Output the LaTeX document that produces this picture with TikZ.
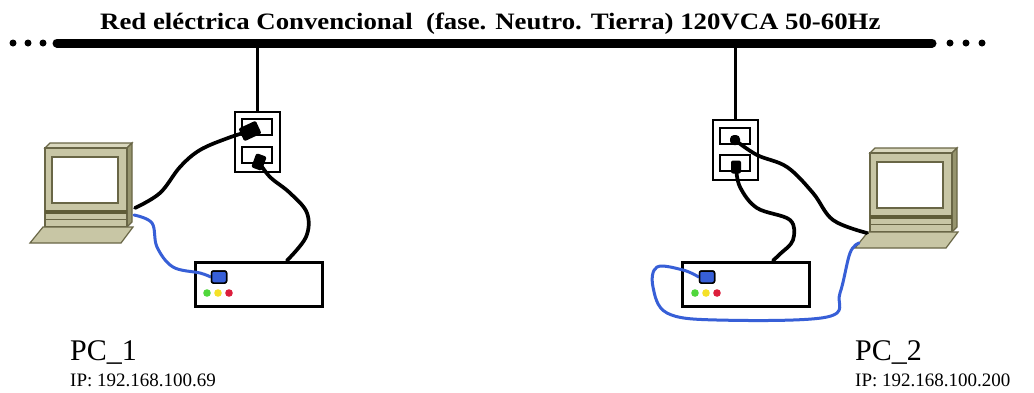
\documentclass[tikz,border=0pt]{standalone}
\usepackage{fontspec}
\setmainfont{Liberation Serif}
\usetikzlibrary{calc,positioning}
\definecolor{pcbody}{RGB}{200,198,165}
\definecolor{pctop}{RGB}{218,216,190}
\definecolor{pcside}{RGB}{150,148,110}
\definecolor{pcline}{RGB}{105,102,70}
\definecolor{pcdark}{RGB}{95,92,55}
\definecolor{lanblue}{RGB}{55,95,215}
\definecolor{ledgreen}{RGB}{80,215,60}
\definecolor{ledyellow}{RGB}{245,225,40}
\definecolor{ledred}{RGB}{220,30,60}

\begin{document}
\begin{tikzpicture}[
    x=1pt, y=-1pt,
    outlet/.style={draw, line width=2.8pt, fill=white, minimum width=45pt, minimum height=60pt, inner sep=0},
    socket/.style={draw, line width=2pt, minimum width=30pt, minimum height=16pt, inner sep=0},
    plug/.style={fill=black, rounded corners=2pt, inner sep=0},
    router/.style={draw, line width=3pt, fill=white, minimum width=127pt, minimum height=44pt, inner sep=0},
    port/.style={draw, line width=1.5pt, fill=lanblue, rounded corners=2pt, minimum width=15pt, minimum height=12pt, inner sep=0},
    cable/.style={line width=3.7pt, line cap=round, line join=round},
    lan/.style={cable, lanblue, line width=3pt},
    pics/pc/.style={code={
        % monitor
        \filldraw[pcline, line width=1.2pt, fill=pctop] (0,0) -- (5,-5) -- (87,-5) -- (82,0) -- cycle;
        \filldraw[pcline, line width=1.2pt, fill=pcside] (82,0) -- (87,-5) -- (87,74) -- (82,79) -- cycle;
        \filldraw[pcline, line width=1.2pt, fill=pcbody] (0,0) rectangle (82,79);
        \filldraw[pcline, fill=white, line width=2pt] (7,9) rectangle (73,55);
        \fill[pcdark] (0,62) rectangle (82,66);
        \draw[pcline] (0,71) -- (82,71);
        % keyboard
        \filldraw[pcline, line width=1.2pt, fill=pcbody] (-2,79) -- (88,79) -- (76,95) -- (-15,95) -- cycle;
        \coordinate (-pw) at (90,60);
        \coordinate (-lan) at (89,67);
        \coordinate (-kbpw) at (-3,80);
        \coordinate (-kblan) at (-11,90);
    }}
]
    \fill[white] (0,0) rectangle (1034,392);
    \useasboundingbox (0,0) rectangle (1034,392);

    % red electrica
    \node[anchor=base west, inner sep=0] (title) at (100,29)
        {\scalebox{1.14}[1]{\fontsize{23.5}{26}\selectfont\bfseries Red eléctrica Convencional\ \ (fase. Neutro. Tierra) 120VCA 50-60Hz}};
    \coordinate (busL) at (57,43);
    \coordinate (busR) at (932,43);
    \draw[line width=9pt, line cap=round] (busL) -- (busR);
    \foreach \x in {13,28,43,950,966,982}
        \fill (\x,43) circle (3.5);

    % tomas de corriente
    \node[outlet] (out1) at (257.5,142) {};
    \node[socket] (s1a) at (257,127) {};
    \node[socket] (s1b) at (257,154.5) {};
    \node[outlet] (out2) at (735.5,150) {};
    \node[socket] (s2a) at (734.5,136) {};
    \node[socket] (s2b) at (734.5,163) {};
    \coordinate (tap1) at (out1.north |- busL);
    \coordinate (tap2) at (out2.north |- busL);
    \draw[line width=2.6pt] (tap1) -- (out1.north);
    \draw[line width=2.6pt] (tap2) -- (out2.north);

    % routers PLC
    \node[router] (rt1) at (258.5,284) {};
    \node[router] (rt2) at (746,284) {};
    \node[port] (port1) at ($(rt1.center)+(-39.5,-7)$) {};
    \node[port] (port2) at ($(rt2.center)+(-39,-7)$) {};
    \foreach \c [count=\i] in {ledgreen,ledyellow,ledred} {
        \fill[\c] ($(rt1.center)+(-62.5+11*\i,9)$) circle (3.8);
        \fill[\c] ($(rt2.center)+(-62+11*\i,9)$) circle (3.8);
    }
    \coordinate (rt1pw) at ([xshift=28.5pt]rt1.north);
    \coordinate (rt2pw) at ([xshift=27pt]rt2.north);

    % computadoras
    \pic (pc1) at (45,148) {pc};
    \pic (pc2) at (870,153) {pc};

    % enchufes
    \node[plug, minimum width=19pt, minimum height=14pt, rotate=25] (plugA) at (250,131) {};
    \node[plug, minimum width=11pt, minimum height=15pt, rotate=-20] (plugB) at (259,162) {};
    \node[plug, minimum width=10pt, minimum height=10pt, rounded corners=4pt] (plugC) at (735,140) {};
    \node[plug, minimum width=10pt, minimum height=13pt] (plugD) at (736,167) {};

    % cables
    \draw[cable] plot[smooth, tension=0.6] coordinates {(pc1-pw) (160,193) (180,167) (200,150) (228,138) (plugA)};
    \draw[cable] plot[smooth, tension=0.6] coordinates {(plugB) (270,177) (290,193) (307,213) (306,237) (rt1pw)};
    \draw[cable] plot[smooth, tension=0.6] coordinates {(plugC) (757,155) (787,167) (813,193) (833,220) (pc2-kbpw)};
    \draw[cable] plot[smooth, tension=0.6] coordinates {(plugD) (740,187) (757,208) (790,220) (793,240) (780,254) (rt2pw)};
    \draw[lan] plot[smooth, tension=0.6] coordinates {(pc1-lan) (152,223) (157,247) (173,267) (200,273) (port1.west)};
    \draw[lan] plot[smooth, tension=0.6] coordinates {(port2.west) (683,270) (657,267) (653,287) (667,313) (717,320) (827,317) (840,293) (850,253) (pc2-kblan)};
    \node[port] at (port1) {};
    \node[port] at (port2) {};

    % etiquetas
    \node[anchor=base west, inner sep=0, font=\fontsize{30}{32}\selectfont] (lbl1) at (70,360) {PC\_1};
    \node[anchor=base west, inner sep=0, font=\fontsize{19}{21}\selectfont] (ip1) at (70,386) {IP: 192.168.100.69};
    \node[anchor=base west, inner sep=0, font=\fontsize{30}{32}\selectfont] (lbl2) at (855,360) {PC\_2};
    \node[anchor=base west, inner sep=0, font=\fontsize{19}{21}\selectfont] (ip2) at (855,386) {IP: 192.168.100.200};
\end{tikzpicture}
\end{document}
